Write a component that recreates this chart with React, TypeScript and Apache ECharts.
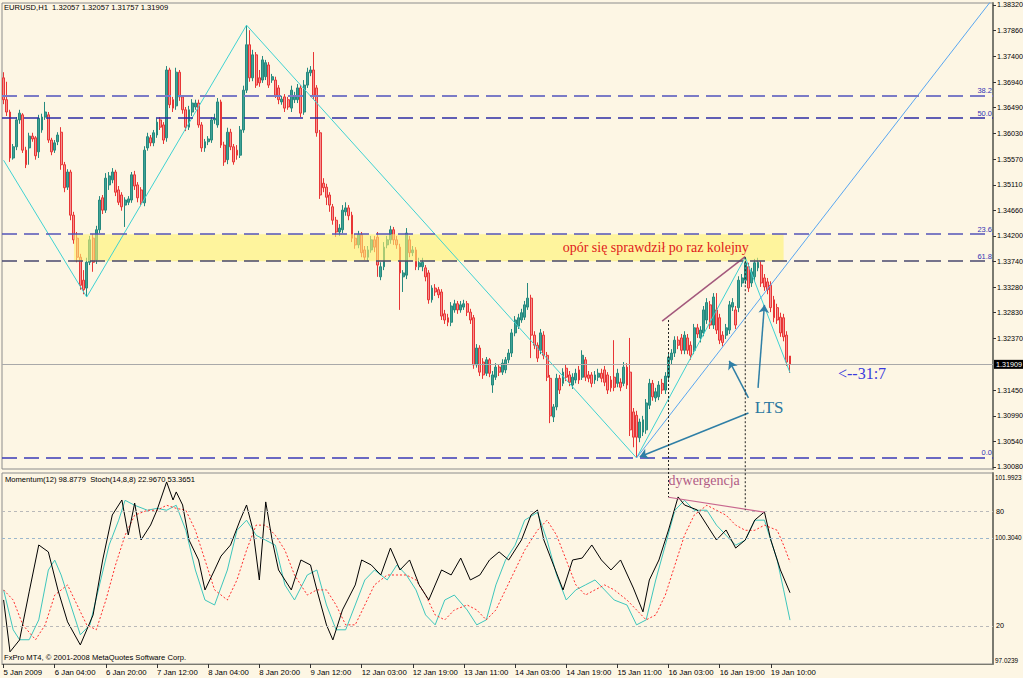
import React, { useEffect, useRef } from "react";
import * as echarts from "echarts";

// [open, close, low, high] – EURUSD H1
const candles: number[][] = [
[1.3702,1.3663,1.3655,1.3712],[1.3663,1.3641,1.3634,1.3695],[1.3641,1.3559,1.3552,1.3645],[1.3559,1.3579,1.3556,1.3584],
[1.3579,1.3627,1.3573,1.3632],[1.3627,1.3639,1.3620,1.3645],[1.3636,1.3573,1.3568,1.3639],[1.3573,1.3547,1.3541,1.3579],
[1.3577,1.3598,1.3547,1.3604],[1.3598,1.3593,1.3588,1.3604],[1.3595,1.3563,1.3556,1.3598],[1.3570,1.3630,1.3559,1.3636],
[1.3609,1.3632,1.3604,1.3638],[1.3632,1.3641,1.3627,1.3659],[1.3636,1.3591,1.3586,1.3641],[1.3591,1.3570,1.3564,1.3595],
[1.3573,1.3586,1.3568,1.3591],[1.3588,1.3600,1.3582,1.3605],[1.3605,1.3547,1.3538,1.3614],[1.3547,1.3506,1.3498,1.3552],
[1.3507,1.3534,1.3502,1.3539],[1.3534,1.3457,1.3448,1.3538],[1.3457,1.3413,1.3406,1.3463],[1.3416,1.3382,1.3373,1.3427],
[1.3382,1.3332,1.3324,1.3388],[1.3341,1.3324,1.3316,1.3359],[1.3327,1.3373,1.3311,1.3381],[1.3373,1.3413,1.3368,1.3420],
[1.3416,1.3373,1.3356,1.3423],[1.3377,1.3431,1.3370,1.3438],[1.3431,1.3484,1.3425,1.3491],[1.3488,1.3466,1.3459,1.3493],
[1.3466,1.3523,1.3461,1.3532],[1.3511,1.3527,1.3502,1.3534],[1.3520,1.3534,1.3514,1.3541],[1.3534,1.3498,1.3491,1.3538],
[1.3502,1.3480,1.3475,1.3509],[1.3493,1.3472,1.3465,1.3498],[1.3475,1.3484,1.3436,1.3489],[1.3480,1.3486,1.3475,1.3491],
[1.3484,1.3529,1.3479,1.3534],[1.3529,1.3509,1.3502,1.3536],[1.3511,1.3488,1.3480,1.3516],[1.3502,1.3480,1.3473,1.3507],
[1.3479,1.3573,1.3473,1.3580],[1.3577,1.3597,1.3572,1.3604],[1.3595,1.3586,1.3580,1.3600],[1.3586,1.3604,1.3580,1.3609],
[1.3600,1.3623,1.3595,1.3630],[1.3627,1.3614,1.3609,1.3632],[1.3618,1.3591,1.3584,1.3623],[1.3595,1.3716,1.3588,1.3723],
[1.3716,1.3654,1.3648,1.3720],[1.3663,1.3648,1.3641,1.3668],[1.3652,1.3712,1.3645,1.3720],[1.3712,1.3668,1.3661,1.3716],
[1.3668,1.3645,1.3638,1.3671],[1.3645,1.3614,1.3607,1.3650],[1.3614,1.3645,1.3609,1.3652],[1.3641,1.3657,1.3634,1.3664],
[1.3650,1.3657,1.3645,1.3663],[1.3657,1.3618,1.3613,1.3663],[1.3618,1.3577,1.3570,1.3623],[1.3577,1.3588,1.3570,1.3593],
[1.3588,1.3593,1.3582,1.3598],[1.3591,1.3627,1.3586,1.3632],[1.3627,1.3630,1.3620,1.3638],[1.3618,1.3659,1.3613,1.3666],
[1.3659,1.3582,1.3577,1.3663],[1.3582,1.3552,1.3545,1.3588],[1.3556,1.3605,1.3548,1.3613],[1.3605,1.3579,1.3573,1.3611],
[1.3579,1.3552,1.3547,1.3584],[1.3573,1.3564,1.3556,1.3582],[1.3564,1.3609,1.3559,1.3616],[1.3609,1.3680,1.3604,1.3688],
[1.3680,1.3761,1.3675,1.3796],[1.3761,1.3702,1.3695,1.3787],[1.3702,1.3743,1.3696,1.3752],[1.3743,1.3689,1.3684,1.3748],
[1.3702,1.3693,1.3686,1.3716],[1.3698,1.3734,1.3693,1.3741],[1.3704,1.3729,1.3698,1.3734],[1.3725,1.3689,1.3684,1.3730],
[1.3698,1.3704,1.3693,1.3709],[1.3698,1.3671,1.3666,1.3704],[1.3684,1.3663,1.3655,1.3689],[1.3659,1.3664,1.3654,1.3670],
[1.3668,1.3648,1.3641,1.3673],[1.3663,1.3650,1.3645,1.3668],[1.3648,1.3680,1.3641,1.3688],[1.3663,1.3670,1.3657,1.3677],
[1.3663,1.3684,1.3657,1.3691],[1.3684,1.3639,1.3632,1.3689],[1.3641,1.3689,1.3636,1.3698],[1.3689,1.3712,1.3684,1.3720],
[1.3711,1.3716,1.3705,1.3723],[1.3716,1.3671,1.3664,1.3748],[1.3684,1.3604,1.3597,1.3689],[1.3604,1.3493,1.3486,1.3609],
[1.3514,1.3506,1.3498,1.3523],[1.3507,1.3489,1.3475,1.3513],[1.3493,1.3475,1.3463,1.3498],[1.3472,1.3448,1.3440,1.3477],
[1.3448,1.3427,1.3418,1.3454],[1.3427,1.3434,1.3420,1.3441],[1.3431,1.3466,1.3425,1.3475],[1.3463,1.3470,1.3456,1.3480],
[1.3470,1.3456,1.3448,1.3475],[1.3457,1.3416,1.3409,1.3463],[1.3416,1.3404,1.3397,1.3423],[1.3404,1.3422,1.3398,1.3429],
[1.3422,1.3390,1.3382,1.3427],[1.3395,1.3382,1.3377,1.3402],[1.3382,1.3395,1.3375,1.3402],[1.3395,1.3413,1.3390,1.3420],
[1.3413,1.3400,1.3391,1.3420],[1.3418,1.3368,1.3347,1.3427],[1.3347,1.3365,1.3341,1.3373],[1.3365,1.3400,1.3359,1.3409],
[1.3404,1.3413,1.3398,1.3420],[1.3413,1.3431,1.3406,1.3438],[1.3431,1.3413,1.3404,1.3436],[1.3413,1.3404,1.3397,1.3420],
[1.3400,1.3354,1.3288,1.3406],[1.3347,1.3354,1.3320,1.3359],[1.3350,1.3425,1.3343,1.3434],[1.3413,1.3390,1.3382,1.3420],
[1.3390,1.3395,1.3384,1.3402],[1.3395,1.3365,1.3359,1.3400],[1.3365,1.3372,1.3359,1.3381],[1.3365,1.3373,1.3357,1.3381],
[1.3363,1.3347,1.3339,1.3368],[1.3354,1.3306,1.3299,1.3359],[1.3306,1.3327,1.3301,1.3332],[1.3327,1.3320,1.3313,1.3334],
[1.3324,1.3315,1.3309,1.3329],[1.3320,1.3277,1.3270,1.3325],[1.3281,1.3270,1.3263,1.3288],[1.3274,1.3266,1.3259,1.3281],
[1.3266,1.3295,1.3259,1.3302],[1.3288,1.3299,1.3283,1.3306],[1.3299,1.3288,1.3281,1.3304],[1.3288,1.3297,1.3283,1.3304],
[1.3293,1.3299,1.3288,1.3306],[1.3299,1.3284,1.3277,1.3304],[1.3284,1.3270,1.3263,1.3290],[1.3274,1.3190,1.3183,1.3279],
[1.3190,1.3220,1.3185,1.3227],[1.3220,1.3177,1.3170,1.3225],[1.3195,1.3172,1.3165,1.3202],[1.3175,1.3199,1.3170,1.3204],
[1.3199,1.3175,1.3168,1.3202],[1.3154,1.3172,1.3140,1.3179],[1.3168,1.3186,1.3163,1.3193],[1.3186,1.3177,1.3170,1.3191],
[1.3177,1.3193,1.3172,1.3200],[1.3181,1.3199,1.3175,1.3204],[1.3199,1.3211,1.3193,1.3218],[1.3211,1.3247,1.3204,1.3254],
[1.3247,1.3270,1.3241,1.3277],[1.3259,1.3274,1.3254,1.3281],[1.3270,1.3283,1.3265,1.3290],[1.3275,1.3297,1.3270,1.3304],
[1.3293,1.3309,1.3288,1.3336],[1.3309,1.3243,1.3202,1.3315],[1.3243,1.3225,1.3218,1.3250],[1.3225,1.3202,1.3195,1.3230],
[1.3216,1.3247,1.3209,1.3254],[1.3243,1.3207,1.3200,1.3250],[1.3207,1.3168,1.3161,1.3213],[1.3166,1.3099,1.3086,1.3172],
[1.3097,1.3115,1.3088,1.3120],[1.3115,1.3166,1.3109,1.3174],[1.3166,1.3145,1.3138,1.3172],[1.3157,1.3177,1.3152,1.3184],
[1.3184,1.3168,1.3161,1.3191],[1.3172,1.3159,1.3152,1.3179],[1.3154,1.3168,1.3147,1.3175],[1.3163,1.3175,1.3157,1.3183],
[1.3181,1.3163,1.3156,1.3188],[1.3168,1.3207,1.3163,1.3216],[1.3199,1.3168,1.3161,1.3204],[1.3172,1.3166,1.3159,1.3179],
[1.3172,1.3157,1.3150,1.3177],[1.3163,1.3172,1.3156,1.3179],[1.3168,1.3175,1.3161,1.3183],[1.3175,1.3166,1.3159,1.3183],
[1.3181,1.3159,1.3152,1.3188],[1.3172,1.3145,1.3138,1.3177],[1.3163,1.3149,1.3142,1.3170],[1.3168,1.3150,1.3143,1.3234],
[1.3157,1.3175,1.3150,1.3183],[1.3159,1.3150,1.3143,1.3166],[1.3157,1.3186,1.3152,1.3195],[1.3186,1.3154,1.3147,1.3193],
[1.3177,1.3074,1.3063,1.3238],[1.3106,1.3061,1.3043,1.3113],[1.3100,1.3061,1.3024,1.3108],[1.3060,1.3088,1.3052,1.3094],
[1.3070,1.3092,1.3063,1.3099],[1.3074,1.3122,1.3067,1.3129],[1.3118,1.3157,1.3111,1.3165],[1.3157,1.3133,1.3126,1.3163],
[1.3131,1.3142,1.3124,1.3149],[1.3133,1.3154,1.3127,1.3161],[1.3157,1.3145,1.3138,1.3165],[1.3145,1.3170,1.3138,1.3177],
[1.3168,1.3204,1.3163,1.3211],[1.3199,1.3211,1.3191,1.3218],[1.3211,1.3234,1.3204,1.3241],[1.3234,1.3225,1.3218,1.3241],
[1.3238,1.3216,1.3209,1.3245],[1.3216,1.3243,1.3209,1.3250],[1.3238,1.3216,1.3209,1.3245],[1.3225,1.3207,1.3199,1.3232],
[1.3216,1.3256,1.3209,1.3263],[1.3256,1.3245,1.3238,1.3263],[1.3238,1.3252,1.3230,1.3259],[1.3247,1.3288,1.3241,1.3295],
[1.3270,1.3301,1.3263,1.3309],[1.3297,1.3261,1.3254,1.3304],[1.3261,1.3311,1.3254,1.3318],[1.3288,1.3252,1.3245,1.3318],
[1.3274,1.3234,1.3227,1.3281],[1.3243,1.3230,1.3223,1.3250],[1.3243,1.3256,1.3236,1.3263],[1.3252,1.3297,1.3245,1.3304],
[1.3293,1.3301,1.3286,1.3309],[1.3288,1.3261,1.3254,1.3295],[1.3292,1.3341,1.3284,1.3348],[1.3336,1.3345,1.3329,1.3352],
[1.3341,1.3372,1.3334,1.3382],[1.3365,1.3327,1.3320,1.3372],[1.3336,1.3356,1.3329,1.3363],[1.3347,1.3372,1.3339,1.3379],
[1.3363,1.3373,1.3357,1.3381],[1.3368,1.3336,1.3329,1.3375],[1.3345,1.3329,1.3322,1.3352],[1.3338,1.3324,1.3316,1.3345],
[1.3332,1.3292,1.3284,1.3339],[1.3306,1.3274,1.3266,1.3313],[1.3292,1.3270,1.3263,1.3299],[1.3275,1.3247,1.3240,1.3283],
[1.3274,1.3240,1.3232,1.3281],[1.3243,1.3195,1.3188,1.3250],[1.32057,1.31909,1.31757,1.32057],
];

const timeLabels = ["5 Jan 2009","6 Jan 04:00","6 Jan 20:00","7 Jan 12:00","8 Jan 04:00","8 Jan 20:00","9 Jan 12:00","12 Jan 03:00","12 Jan 19:00","13 Jan 11:00","14 Jan 03:00","14 Jan 19:00","15 Jan 11:00","16 Jan 03:00","16 Jan 19:00","19 Jan 10:00"];
const priceTicks = [1.3832,1.3786,1.374,1.3694,1.3649,1.3603,1.3557,1.3511,1.3466,1.342,1.3374,1.3328,1.3283,1.3237,1.3145,1.3099,1.3054,1.3008];
const fibNames = ["38.2","50.0","23.6","61.8","0.0"];
const fibValues = [1.3670,1.3630,1.3423,1.3375,1.3024];
const lastPrice = 1.31909;
const zigzag = [[0,1.3555],[26,1.3311],[76,1.3796],[198,1.3024],[232,1.3382],[246,1.3176]];
const channelRay = [[198,1.3024],[309,1.3840]];
const priceDivergence = [[206,1.3268],[232,1.3383]];
const ltsArrows = [[[233,1.3131],[227,1.3197]],[[236,1.3149],[238,1.3297]],[[233,1.3104],[199,1.3026]]];

const momentum = [[0,98.69],[2,97.34],[5,97.65],[8,98.90],[11,100.12],[14,99.94],[17,98.95],[20,98.12],[24,97.52],[28,98.30],[31,99.73],[34,100.90],[37,101.29],[39,100.38],[41,101.21],[43,100.25],[46,100.64],[48,101.03],[51,101.76],[53,101.29],[54,101.50],[56,101.16],[58,100.25],[61,99.73],[63,98.95],[66,99.47],[68,99.83],[71,100.12],[74,100.77],[76,101.16],[78,100.51],[80,99.21],[82,101.24],[84,100.25],[86,99.47],[90,98.95],[93,99.73],[96,99.60],[98,98.95],[101,98.04],[103,97.65],[106,98.43],[110,99.08],[112,99.73],[115,99.60],[118,99.34],[121,100.04],[124,99.47],[127,99.73],[130,99.08],[133,98.69],[137,99.47],[140,99.34],[143,99.78],[146,99.21],[149,99.34],[152,99.73],[155,99.94],[158,99.73],[162,100.25],[165,100.90],[167,101.03],[169,100.25],[172,99.60],[175,98.95],[178,99.73],[181,99.78],[184,100.12],[187,99.73],[190,99.47],[193,99.73],[197,99.00],[200,98.38],[202,99.21],[205,99.73],[208,100.51],[211,101.37],[213,101.16],[217,101.03],[220,100.64],[223,100.25],[226,100.51],[229,100.04],[232,100.25],[235,100.77],[238,100.98],[240,100.25],[243,99.47],[246,98.8779]];
const stochMain = [[0,38.8],[3,17.9],[5,12.7],[8,12.7],[11,23.1],[14,49.2],[16,54.4],[18,46.6],[21,30.9],[24,15.3],[27,20.5],[30,41.4],[33,62.2],[36,75.3],[38,85.7],[41,83.1],[45,80.5],[48,81.5],[51,80.5],[54,83.1],[57,70.0],[60,49.2],[63,33.5],[66,30.9],[70,49.2],[73,70.0],[76,75.3],[79,67.4],[82,64.8],[85,62.2],[88,41.4],[91,33.5],[95,46.6],[98,49.2],[101,30.9],[104,17.9],[107,17.9],[110,30.9],[113,44.0],[116,49.2],[120,44.0],[123,51.8],[126,46.6],[129,38.8],[132,25.7],[135,20.5],[138,33.5],[141,36.1],[145,28.3],[148,20.5],[151,23.1],[154,41.4],[157,54.4],[160,62.2],[163,75.3],[167,79.4],[170,64.8],[173,46.6],[176,33.5],[179,38.8],[182,41.4],[185,44.0],[188,38.8],[191,33.5],[195,30.9],[198,20.5],[201,23.1],[204,44.0],[207,62.2],[210,80.5],[213,85.7],[216,80.5],[220,80.5],[223,72.7],[226,67.4],[229,62.2],[232,64.8],[235,75.3],[238,75.3],[242,54.4],[244,38.8],[246,22.967]];
const stochSignal = [[0,38.8],[3,33.5],[6,20.5],[10,12.7],[13,20.5],[16,36.1],[20,41.4],[23,30.9],[26,20.5],[29,17.9],[32,33.5],[35,51.8],[38,67.4],[41,77.9],[45,80.5],[48,80.5],[51,83.1],[54,81.5],[57,80.5],[60,70.0],[63,54.4],[66,38.8],[70,33.5],[73,44.0],[76,59.6],[79,72.7],[82,72.7],[85,67.4],[88,59.6],[91,46.6],[95,36.1],[98,38.8],[101,38.8],[104,30.9],[107,20.5],[110,20.5],[113,30.9],[116,41.4],[120,46.6],[123,46.6],[126,46.6],[129,44.0],[132,36.1],[135,25.7],[138,23.1],[141,28.3],[145,30.9],[148,28.3],[151,23.1],[154,28.3],[157,38.8],[160,49.2],[163,59.6],[167,70.0],[170,75.3],[173,67.4],[176,54.4],[179,41.4],[182,36.1],[185,38.8],[188,41.4],[191,38.8],[195,33.5],[198,28.3],[201,23.1],[204,25.7],[207,36.1],[210,51.8],[213,67.4],[216,77.9],[220,83.1],[223,80.5],[226,77.9],[229,72.7],[232,70.0],[235,70.0],[238,72.7],[242,70.0],[244,62.2],[246,53.3651]];
const momentumScale = [97.0239, 100.3040, 101.9923];
const momentumLevel = 100.3040;
const stochLevels = [20, 80];
const indicatorDivergence = [[208,87.3],[238,79.5]];

const FONT = '"Liberation Sans", Arial, sans-serif';
const SERIF = '"Liberation Serif", "DejaVu Serif", "Times New Roman", serif';
const BG = "#fdf6e4";
const TOTAL_SLOTS = 310;

export default function App() {
  const ref = useRef<HTMLDivElement>(null);
  useEffect(() => {
    const chart = echarts.init(ref.current!, null, { renderer: "svg" });
    const categories = Array.from({ length: TOTAL_SLOTS }, (_, i) => String(i));
    const showTime = (i: number) => i % 16 === 0 && i / 16 < timeLabels.length;
    const fibColors = ["#7b7bc6", "#2c2ca4", "#5454b8", "#48486e", "#3a3ab6"];
    const fibWidths = [2, 1.5, 1.5, 1.5, 1.5];
    const axisText = { fontFamily: FONT, fontSize: 7.2, color: "#000" };
    const momText = { fontFamily: FONT, fontSize: 6.4, color: "#000" };

    const option: any = {
      animation: false,
      backgroundColor: BG,
      grid: [
        { left: 2, top: 3, width: 991, height: 466, show: true, borderColor: "#8c8c8c", borderWidth: 1, containLabel: false, outerBoundsMode: "none" },
        { left: 2, top: 473, width: 991, height: 191, show: true, borderColor: "#8c8c8c", borderWidth: 1, containLabel: false, outerBoundsMode: "none" },
      ],
      xAxis: [
        { type: "category", gridIndex: 0, data: categories, boundaryGap: true, axisLine: { show: false }, axisTick: { show: false }, axisLabel: { show: false }, splitLine: { show: false } },
        {
          type: "category", gridIndex: 1, data: categories, boundaryGap: true,
          axisLine: { show: true, lineStyle: { color: "#7a7a70", width: 1 } },
          axisTick: { show: true, alignWithLabel: true, interval: (i: number) => showTime(i), length: 4, lineStyle: { color: "#333" } },
          axisLabel: { ...axisText, fontSize: 7.8, interval: (i: number) => showTime(i), formatter: (_v: string, i: number) => timeLabels[i / 16] ?? "", align: "left", margin: 4 },
          splitLine: { show: false },
        },
      ],
      yAxis: [
        {
          type: "value", gridIndex: 0, position: "right", min: 1.30042, max: 1.38355,
          axisLine: { show: true, lineStyle: { color: "#7a7a70", width: 2 } },
          axisTick: { show: true, length: 3, customValues: priceTicks, lineStyle: { color: "#333" } },
          axisLabel: { ...axisText, customValues: priceTicks, formatter: (v: number) => v.toFixed(5), margin: 4 },
          splitLine: { show: false },
        },
        {
          type: "value", gridIndex: 1, position: "right", min: momentumScale[0], max: momentumScale[2],
          axisLine: { show: true, lineStyle: { color: "#7a7a70", width: 2 } },
          axisTick: { show: false },
          axisLabel: {
            ...momText, customValues: momentumScale, margin: 2,
            formatter: (v: number) => (v > 101 ? `{t|${v.toFixed(4)}}` : v < 98 ? `{b|${v.toFixed(4)}}` : v.toFixed(4)),
            rich: { t: { ...momText, padding: [8, 0, 0, 0] }, b: { ...momText, padding: [0, 0, 8, 0] } },
          },
          splitLine: { show: false },
        },
        {
          type: "value", gridIndex: 1, position: "right", min: 0, max: 100,
          axisLine: { show: false }, axisTick: { show: false },
          axisLabel: { ...axisText, customValues: stochLevels, margin: 3 },
          splitLine: { show: false },
        },
      ],
      series: [
        {
          type: "candlestick", xAxisIndex: 0, yAxisIndex: 0, data: candles, barWidth: 2.4, z: 2,
          itemStyle: { color: "#3fa296", color0: "#f59191", borderColor: "#26897e", borderColor0: "#e83535", borderWidth: 1 },
          markLine: {
            silent: true, symbol: "none", z: 5, precision: 6,
            data: [
              ...fibValues.map((v, k) => ({
                yAxis: v, name: fibNames[k],
                lineStyle: { color: fibColors[k], width: fibWidths[k], type: [15, 7] },
                label: { show: true, position: "insideEndTop", formatter: "{b}", color: "#3434b4", fontSize: 7.5, fontFamily: FONT, distance: 1 },
              })),
              {
                yAxis: lastPrice, name: "last",
                lineStyle: { color: "#a9a9a9", width: 1, type: "solid" },
                label: { show: true, position: "end", formatter: lastPrice.toFixed(5), color: "#fff", backgroundColor: "#000", padding: [1, 2, 1, 2], fontSize: 7.2, fontFamily: FONT, distance: 1 },
              },
            ],
          },
        },
        {
          type: "line", xAxisIndex: 0, yAxisIndex: 0, data: zigzag, symbol: "none", z: 4,
          lineStyle: { color: "#3fd2d2", width: 1 },
          markArea: {
            silent: true, z: 3,
            itemStyle: { color: "rgba(255,243,110,0.6)" },
            data: [[{ coord: [22, fibValues[2]] }, { coord: [244, fibValues[3]] }]],
          },
          markLine: {
            silent: true, symbol: ["none", "arrow"], symbolSize: 8, z: 6, precision: 6,
            lineStyle: { color: "#2f7fa6", width: 1.5, type: "solid" },
            label: { show: false },
            data: ltsArrows.map((a) => [{ coord: a[0] }, { coord: a[1] }]),
          },
        },
        { type: "line", xAxisIndex: 0, yAxisIndex: 0, data: channelRay, symbol: "none", z: 4, clip: true, lineStyle: { color: "#58a6f0", width: 1 } },
        { type: "line", xAxisIndex: 0, yAxisIndex: 0, data: priceDivergence, symbol: "none", z: 4, lineStyle: { color: "#a3587c", width: 1.5 } },
        {
          type: "line", xAxisIndex: 1, yAxisIndex: 1, data: momentum, symbol: "none", z: 4,
          lineStyle: { color: "#000", width: 1 },
          markLine: { silent: true, symbol: "none", precision: 6, label: { show: false }, lineStyle: { color: "#9cb7cc", width: 1, type: [3, 3] }, data: [{ yAxis: momentumLevel }] },
        },
        {
          type: "line", xAxisIndex: 1, yAxisIndex: 2, data: stochMain, symbol: "none", z: 3,
          lineStyle: { color: "#3ec6bc", width: 1 },
          markLine: { silent: true, symbol: "none", label: { show: false }, lineStyle: { color: "#b9b9b9", width: 1, type: [3, 3] }, data: stochLevels.map((v) => ({ yAxis: v })) },
        },
        { type: "line", xAxisIndex: 1, yAxisIndex: 2, data: stochSignal, symbol: "none", z: 3, lineStyle: { color: "#ff2e2e", width: 1, type: [2, 2] } },
        { type: "line", xAxisIndex: 1, yAxisIndex: 2, data: indicatorDivergence, symbol: "none", z: 5, lineStyle: { color: "#c8668e", width: 1.2 } },
      ],
    };
    chart.setOption(option);

    const toMain = (p: number[]) => chart.convertToPixel({ xAxisIndex: 0, yAxisIndex: 0 } as any, p) as number[];
    const toStoch = (p: number[]) => chart.convertToPixel({ xAxisIndex: 1, yAxisIndex: 2 } as any, p) as number[];

    const vLine = (a: number[], b: number[]) => ({
      type: "line", z: 50, silent: true,
      shape: { x1: a[0], y1: a[1], x2: b[0], y2: b[1] },
      style: { stroke: "#222", lineWidth: 1, lineDash: [2, 2] },
    });
    const txt = (p: number[], text: string, font: string, fill: string, align: string) => ({
      type: "text", z: 60, silent: true, x: p[0], y: p[1],
      style: { text, font, fill, textAlign: align, align, textVerticalAlign: "middle", verticalAlign: "middle" },
    });
    const small = `7.6px ${FONT}`;

    chart.setOption({
      graphic: [
        vLine(toMain([208, 1.3270]), toStoch([208, 87.3])),
        vLine(toMain([232, 1.3382]), toStoch([232, 80.5])),
        txt(toMain([204, 1.3400]), "opór się sprawdził po raz kolejny", `14px ${SERIF}`, "#e01a1a", "center"),
        txt(toMain([235, 1.3114]), "LTS", `17px ${SERIF}`, "#2a78a0", "left"),
        txt(toMain([261, 1.3175]), "<--31:7", `16px ${SERIF}`, "#3a3adc", "left"),
        txt(toStoch([208, 96]), "dywergencja", `14px ${SERIF}`, "#b05a84", "left"),
        txt([4, 7], "EURUSD,H1  1.32057 1.32057 1.31757 1.31909", small, "#000", "left"),
        txt([5, 479], "Momentum(12) 98.8779  Stoch(14,8,8) 22.9670 53.3651", small, "#000", "left"),
        txt([4, 657], "FxPro MT4, © 2001-2008 MetaQuotes Software Corp.", small, "#000", "left"),
      ],
    });

    return () => chart.dispose();
  }, []);
  return <div ref={ref} style={{ position: "fixed", left: 0, top: 0, width: 1023, height: 678 }} />;
}
